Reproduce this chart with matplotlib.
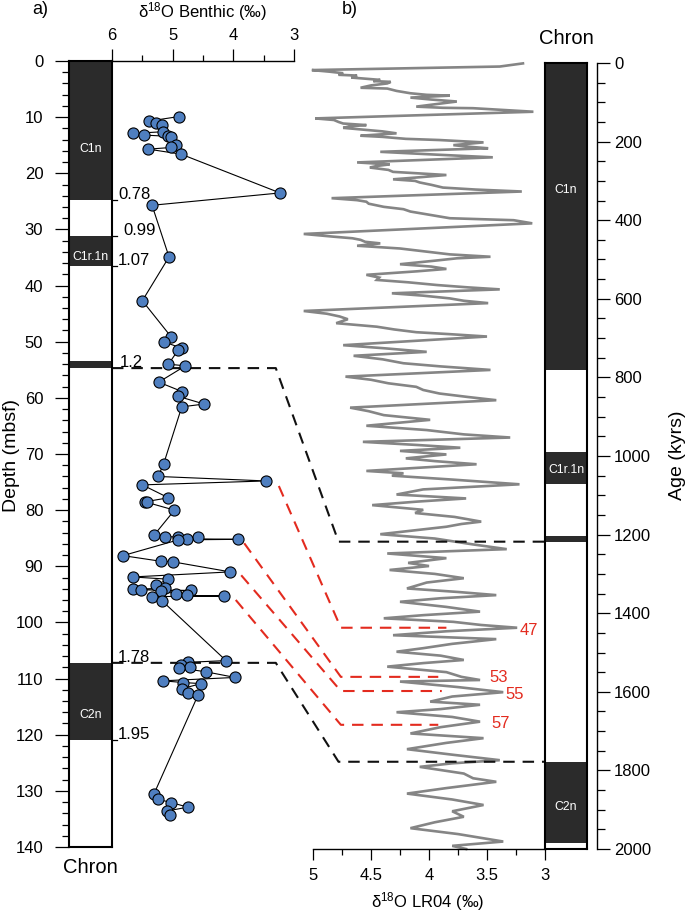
import matplotlib
matplotlib.use('Agg')
import matplotlib.pyplot as plt

plt.rcParams['font.family'] = ['Liberation Sans', 'DejaVu Sans']
plt.rcParams['mathtext.fontset'] = 'custom'
plt.rcParams['mathtext.rm'] = 'Liberation Sans'
plt.rcParams['mathtext.it'] = 'Liberation Sans:italic'

# --- a) benthic d18O vs depth ---
benthic_depth = [9.9, 10.7, 11.1, 11.4, 12.6, 12.9, 13.2, 13.4, 13.6, 15.0,
                 15.4, 15.7, 16.6, 23.5, 25.7, 34.9, 42.7, 49.2, 50.0, 51.2,
                 51.5, 54.0, 54.3, 57.2, 58.9, 59.7, 61.1, 61.6, 71.8, 74.0,
                 74.8, 75.5, 77.8, 78.5, 78.6, 80.0, 84.5, 84.7, 84.8, 84.8,
                 85.1, 85.2, 85.3, 88.1, 89.1, 89.2, 91.0, 91.9, 92.3, 93.3,
                 93.9, 94.1, 94.2, 94.3, 94.4, 94.9, 95.2, 95.3, 95.4, 96.2,
                 106.8, 107.1, 107.5, 107.9, 108.1, 108.8, 109.8, 110.4, 110.7, 110.9,
                 111.8, 112.6, 112.9, 130.6, 131.5, 132.1, 132.9, 133.6, 134.3]
benthic_d18o = [4.90, 5.39, 5.27, 5.18, 5.16, 5.66, 5.47, 5.08, 5.02, 4.94,
                5.02, 5.40, 4.86, 3.23, 5.34, 5.06, 5.50, 5.02, 5.15, 4.84,
                4.91, 5.07, 4.79, 5.23, 4.84, 4.92, 4.48, 4.85, 5.15, 5.24,
                3.46, 5.50, 5.07, 5.45, 5.43, 4.97, 5.31, 5.12, 4.91, 4.59,
                4.77, 3.93, 4.91, 5.82, 5.20, 5.00, 4.05, 5.66, 5.07, 5.27,
                5.13, 5.66, 5.52, 4.70, 5.20, 4.94, 4.76, 4.16, 5.34, 5.17,
                4.12, 4.74, 4.86, 4.72, 4.89, 4.45, 3.97, 5.16, 4.83, 4.53,
                4.85, 4.75, 4.58, 5.31, 5.24, 5.02, 4.75, 5.10, 5.05]

# chrons in depth (top, bottom) and boundary ages (Ma)
chron_depth_top = [0.0, 31.2, 53.4, 107.2]
chron_depth_bot = [24.7, 36.5, 54.7, 121.0]
chron_depth_names = ['C1n', 'C1r.1n', '', 'C2n']
chron_depth_label_at = [15.6, 34.9, None, 116.5]
bound_depth = [24.7, 31.2, 36.5, 54.7, 107.2, 121.0]
bound_label = ['0.78', '0.99', '1.07', '1.2', '1.78', '1.95']
bound_label_x = [5.90, 5.82, 5.90, 5.87, 5.90, 5.90]

# --- b) LR04 stack vs age ---
lr04_age = [1, 9, 18, 22, 26, 30, 32, 37, 43, 46,
            48, 52, 57, 63, 65, 71, 77, 81, 83, 88,
            93, 98, 104, 111, 114, 115, 124, 141, 145, 150,
            154, 158, 161, 165, 171, 174, 179, 185, 188, 193,
            196, 202, 209, 213, 217, 226, 233, 240, 253, 258,
            262, 266, 272, 277, 285, 290, 296, 300, 304, 310,
            317, 322, 327, 344, 349, 353, 358, 366, 372, 378,
            386, 395, 400, 408, 435, 442, 446, 450, 455, 459,
            465, 472, 479, 487, 493, 497, 503, 512, 518, 524,
            530, 539, 546, 552, 558, 565, 571, 576, 586, 592,
            599, 605, 611, 631, 638, 645, 652, 662, 671, 678,
            685, 690, 696, 718, 726, 735, 745, 754, 764, 772,
            781, 798, 806, 815, 824, 832, 841, 850, 858, 877,
            886, 896, 908, 923, 934, 945, 953, 964, 972, 979,
            987, 996, 1006, 1013, 1021, 1038, 1044, 1050, 1060, 1072,
            1085, 1098, 1108, 1116, 1125, 1137, 1145, 1155, 1167, 1173,
            1180, 1190, 1199, 1210, 1225, 1237, 1248, 1254, 1260, 1272,
            1280, 1290, 1300, 1311, 1322, 1337, 1346, 1354, 1362, 1371,
            1384, 1396, 1405, 1413, 1422, 1430, 1437, 1446, 1456, 1466,
            1478, 1489, 1498, 1508, 1519, 1527, 1536, 1550, 1562, 1570,
            1574, 1588, 1601, 1612, 1625, 1633, 1644, 1652, 1664, 1676,
            1690, 1706, 1718, 1730, 1746, 1760, 1774, 1782, 1791, 1808,
            1820, 1829, 1845, 1859, 1874, 1888, 1904, 1918, 1932, 1947,
            1962, 1981, 1992, 2000]
lr04_d18o = [3.19, 3.39, 5.01, 4.86, 4.74, 4.78, 4.62, 4.67, 4.42, 4.48,
             4.33, 4.36, 4.50, 4.59, 4.36, 4.28, 4.16, 4.02, 3.82, 4.16,
             3.98, 3.76, 3.92, 4.11, 3.88, 3.62, 3.10, 4.98, 4.82, 4.78,
             4.74, 4.54, 4.68, 4.74, 4.51, 4.40, 4.28, 4.59, 4.40, 4.20,
             3.91, 3.53, 3.79, 3.66, 3.49, 4.42, 3.95, 3.45, 4.62, 4.34,
             4.45, 4.51, 4.35, 4.31, 3.85, 4.05, 4.31, 4.12, 4.08, 3.98,
             3.88, 3.60, 3.20, 4.84, 4.62, 4.54, 4.52, 4.39, 4.22, 4.16,
             4.00, 3.82, 3.27, 3.11, 5.08, 4.82, 4.66, 4.59, 4.55, 4.42,
             4.62, 4.25, 4.05, 3.82, 3.47, 3.76, 3.95, 4.25, 3.98, 3.85,
             4.10, 4.54, 4.43, 4.45, 4.18, 3.93, 3.66, 3.39, 4.32, 4.05,
             3.82, 3.70, 3.49, 5.08, 4.88, 4.77, 4.70, 4.80, 4.45, 4.30,
             4.11, 3.82, 3.50, 4.74, 4.38, 4.02, 4.65, 4.40, 4.22, 3.90,
             3.47, 4.72, 4.50, 4.35, 4.11, 4.05, 3.91, 3.66, 3.42, 4.68,
             4.52, 4.39, 3.99, 4.54, 4.02, 3.70, 3.30, 4.57, 4.10, 3.73,
             4.25, 3.85, 4.20, 3.95, 3.59, 4.54, 4.22, 4.32, 3.80, 3.22,
             4.05, 4.28, 3.68, 4.10, 4.49, 4.05, 4.12, 3.78, 3.55, 3.72,
             3.85, 4.15, 4.42, 3.95, 3.62, 3.33, 4.36, 4.10, 3.85, 4.18,
             4.00, 4.34, 3.95, 3.70, 4.02, 4.19, 3.75, 3.42, 3.90, 4.25,
             3.85, 3.56, 4.05, 4.39, 3.79, 3.55, 3.24, 3.85, 4.31, 3.42,
             3.80, 4.05, 4.28, 3.90, 3.70, 4.05, 4.36, 3.85, 3.72, 3.56,
             4.25, 3.75, 3.36, 3.80, 3.99, 3.56, 3.90, 4.28, 3.80, 3.56,
             3.90, 4.16, 3.53, 3.85, 4.19, 3.80, 3.39, 3.80, 4.08, 3.70,
             3.62, 3.42, 3.85, 4.19, 3.80, 3.53, 3.80, 3.70, 3.95, 4.16,
             3.75, 3.36, 3.80, 3.68]

chron_age_top = [0, 990, 1203, 1778]
chron_age_bot = [780, 1070, 1218, 1985]
chron_age_names = ['C1n', 'C1r.1n', '', 'C2n']
chron_age_label_at = [323, 1036, None, 1893]

# tie points: reversal boundaries (black) and MIS (red)
tie_black_depth = [54.7, 107.2]
tie_black_age = [1218, 1778]
tie_red_start_d18o = [3.25, 3.82, 3.87, 3.96]
tie_red_start_depth = [75.7, 85.9, 91.6, 96.0]
tie_red_age = [1437, 1562, 1598, 1684]
tie_red_end_d18o = [3.85, 3.92, 3.89, 3.92]
mis_labels = ['47', '53', '55', '57']
mis_label_d18o = [3.22, 3.48, 3.34, 3.46]
mis_label_age = [1443, 1564, 1606, 1680]

BAR = '#2b2b2b'
RED = '#e32b1f'
W, H = 685, 913


def box(l, t, r, b):
    return [l / W, 1 - b / H, (r - l) / W, (b - t) / H]


fig = plt.figure(figsize=(W / 100, H / 100), dpi=100)

# panel b first so panel a markers are drawn over the tie lines
ax_b = fig.add_axes(box(313, 63, 545, 849))
ax_c2 = fig.add_axes(box(545, 63, 587, 849))
ax_c1 = fig.add_axes(box(69, 61, 112, 847))
ax_a = fig.add_axes(box(112, 61, 294, 847))
for ax in (ax_b, ax_c2, ax_c1, ax_a):
    ax.patch.set_visible(False)

# ---- chron bar a ----
ax_c1.set_xlim(0, 1)
ax_c1.set_ylim(140, 0)
for t, b in zip(chron_depth_top, chron_depth_bot):
    ax_c1.axhspan(t, b, color=BAR, lw=0)
for name, y in zip(chron_depth_names, chron_depth_label_at):
    if name:
        ax_c1.text(0.5, y, name, color='white', fontsize=8.8,
                   ha='center', va='center')
for s in ax_c1.spines.values():
    s.set_linewidth(1.5)
ax_c1.set_xticks([])
ax_c1.set_yticks(range(0, 141, 10))
ax_c1.set_yticks(range(0, 141, 2), minor=True)
ax_c1.tick_params(axis='y', which='major', length=10, width=0.9,
                  labelsize=12, pad=8.5)
ax_c1.tick_params(axis='y', which='minor', length=5, width=0.9)

# ---- panel a ----
ax_a.set_xlim(6, 3)
ax_a.set_ylim(140, 0)
for k in ('left', 'right', 'bottom'):
    ax_a.spines[k].set_visible(False)
ax_a.spines['top'].set_linewidth(1.0)
ax_a.xaxis.tick_top()
ax_a.set_xticks([6, 5, 4, 3], labels=['6', '5', '4', '3'])
ax_a.set_xticks([5.5, 4.5, 3.5], minor=True)
ax_a.tick_params(axis='x', which='major', length=8.6, width=0.9,
                 labelsize=12, pad=4.5)
ax_a.tick_params(axis='x', which='minor', length=4.3, width=0.9)
ax_a.set_yticks([])
ax_a.plot(benthic_d18o, benthic_depth, '-', color='black', lw=0.8,
          marker='o', ms=8, mfc='#4f7fc0', mec='black', mew=0.8,
          clip_on=False, zorder=4)
for d, lab, lx in zip(bound_depth, bound_label, bound_label_x):
    if lab not in ('1.2', '1.78'):
        ax_a.plot([6.0, 5.91], [d, d], color='black', lw=0.9, clip_on=False)
    ax_a.text(lx, d - 0.2, lab, fontsize=12, ha='left', va='baseline')

# ---- panel b ----
ax_b.set_xlim(5, 3)
ax_b.set_ylim(2000, 0)
for k in ('left', 'right', 'top'):
    ax_b.spines[k].set_visible(False)
ax_b.spines['bottom'].set_linewidth(1.0)
ax_b.set_xticks([5, 4.5, 4, 3.5, 3], labels=['5', '4.5', '4', '3.5', '3'])
ax_b.set_xticks([4.75, 4.25, 3.75, 3.25], minor=True)
ax_b.tick_params(axis='x', which='major', length=8, width=0.9,
                 labelsize=12, pad=6)
ax_b.tick_params(axis='x', which='minor', length=4.3, width=0.9)
ax_b.set_yticks([])
ax_b.plot(lr04_d18o, lr04_age, color='#858585', lw=1.9, clip_on=False,
          solid_joinstyle='miter', zorder=2)
for lab, x, y in zip(mis_labels, mis_label_d18o, mis_label_age):
    ax_b.text(x, y, lab, color=RED, fontsize=12, ha='left', va='center',
              clip_on=False)

# ---- chron bar b + age axis ----
ax_c2.set_xlim(0, 1)
ax_c2.set_ylim(2000, 0)
for t, b in zip(chron_age_top, chron_age_bot):
    ax_c2.axhspan(t, b, color=BAR, lw=0)
for name, y in zip(chron_age_names, chron_age_label_at):
    if name:
        ax_c2.text(0.5, y, name, color='white', fontsize=8.8,
                   ha='center', va='center')
for s in ax_c2.spines.values():
    s.set_linewidth(1.5)
ax_c2.set_xticks([])
ax_c2.set_yticks([])

ax_age = ax_c2.twinx()
ax_age.patch.set_visible(False)
ax_age.set_ylim(2000, 0)
for k in ('left', 'top', 'bottom'):
    ax_age.spines[k].set_visible(False)
ax_age.spines['right'].set_position(('outward', 7.2))
ax_age.spines['right'].set_linewidth(1.0)
ax_age.set_yticks(range(0, 2001, 200))
ax_age.set_yticks(range(0, 2001, 50), minor=True)
ax_age.tick_params(axis='y', which='major', length=9.4, width=0.9,
                   labelsize=12, pad=3)
ax_age.tick_params(axis='y', which='minor', length=5.5, width=0.9)

# ---- tie lines across the panels ----
inv = fig.transFigure.inverted()


def to_fig(ax, x, y):
    return inv.transform(ax.transData.transform((x, y)))


def tie(points, color):
    xs = [p[0] for p in points]
    ys = [p[1] for p in points]
    ax_b.plot(xs, ys, transform=fig.transFigure, clip_on=False, color=color,
              lw=1.5, dashes=(5.5, 3.8), zorder=3, solid_joinstyle='round')


for d, age in zip(tie_black_depth, tie_black_age):
    tie([to_fig(ax_a, 6.0, d), to_fig(ax_a, 3.30, d),
         to_fig(ax_b, 4.78, age), to_fig(ax_b, 3.0, age)], '#111111')

for sx, sd, age, ex in zip(tie_red_start_d18o, tie_red_start_depth,
                           tie_red_age, tie_red_end_d18o):
    tie([to_fig(ax_a, sx, sd), to_fig(ax_b, 4.76, age),
         to_fig(ax_b, ex, age)], RED)

ax_b.set_xlim(5, 3)
ax_b.set_ylim(2000, 0)

# ---- labels ----
fig.text(40 / W, 1 - 10 / H, 'a)', fontsize=13, ha='center', va='center')
fig.text(350 / W, 1 - 10 / H, 'b)', fontsize=13, ha='center', va='center')
fig.text(203 / W, 1 - 12 / H, r'δ$^{18}$O Benthic (‰)', fontsize=12,
         ha='center', va='center')
fig.text(428 / W, 1 - 902 / H, r'δ$^{18}$O LR04 (‰)', fontsize=12,
         ha='center', va='center')
fig.text(90 / W, 1 - 867 / H, 'Chron', fontsize=14.5, ha='center', va='center')
fig.text(566 / W, 1 - 38 / H, 'Chron', fontsize=14.5, ha='center', va='center')
fig.text(12 / W, 1 - 456 / H, 'Depth (mbsf)', fontsize=14, rotation=90,
         ha='center', va='center')
fig.text(677 / W, 1 - 455 / H, 'Age (kyrs)', fontsize=14, rotation=90,
         ha='center', va='center')

fig.savefig('out.png', dpi=100)
